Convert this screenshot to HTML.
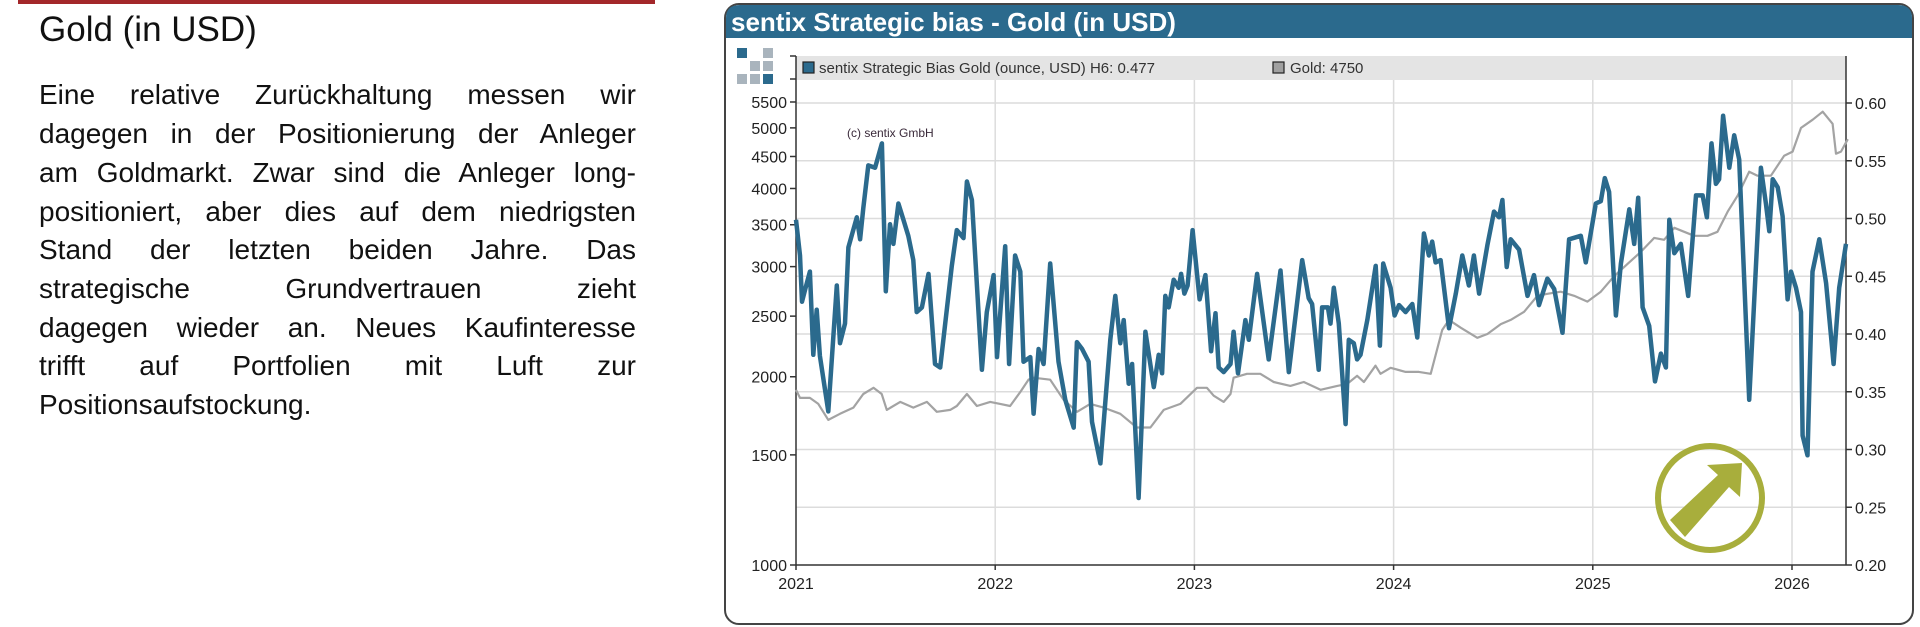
<!DOCTYPE html>
<html><head><meta charset="utf-8">
<style>
body{margin:0;width:1920px;height:627px;background:#fff;position:relative;overflow:hidden;font-family:"Liberation Sans",sans-serif;}
#redline{position:absolute;left:18px;top:0;width:637px;height:4px;background:#a3272a;}
#heading{position:absolute;left:39px;top:10px;font-size:35px;color:#111;}
.ln{position:absolute;left:39px;width:597px;font-size:28px;color:#111;text-align:justify;text-align-last:justify;white-space:nowrap;line-height:32px;}
</style></head><body>
<div id="redline"></div>
<div id="heading">Gold (in USD)</div>
<div>
<div class="ln" style="top:79px">Eine relative Zurückhaltung messen wir</div>
<div class="ln" style="top:118px">dagegen in der Positionierung der Anleger</div>
<div class="ln" style="top:157px">am Goldmarkt. Zwar sind die Anleger long-</div>
<div class="ln" style="top:196px">positioniert, aber dies auf dem niedrigsten</div>
<div class="ln" style="top:234px">Stand der letzten beiden Jahre. Das</div>
<div class="ln" style="top:273px">strategische Grundvertrauen zieht</div>
<div class="ln" style="top:312px">dagegen wieder an. Neues Kaufinteresse</div>
<div class="ln" style="top:350px">trifft auf Portfolien mit Luft zur</div>
<div class="ln" style="top:389px;text-align-last:left">Positionsaufstockung.</div>
</div>
<svg id="chart" width="1920" height="627" style="position:absolute;left:0;top:0"></svg>
<script>
const years=[2021,2022,2023,2024,2025,2026];
const leftTicks=[1000,1500,2000,2500,3000,3500,4000,4500,5000,5500];
const rightTicks=[0.20,0.25,0.30,0.35,0.40,0.45,0.50,0.55,0.60];
const biasDates=[2021.0,2021.02,2021.03,2021.045,2021.07,2021.087,2021.104,2021.12,2021.162,2021.205,2021.221,2021.246,2021.263,2021.305,2021.322,2021.338,2021.363,2021.397,2021.431,2021.451,2021.472,2021.489,2021.514,2021.539,2021.564,2021.589,2021.606,2021.632,2021.665,2021.698,2021.724,2021.749,2021.782,2021.807,2021.841,2021.858,2021.883,2021.933,2021.958,2021.992,2022.009,2022.05,2022.07,2022.1,2022.126,2022.142,2022.176,2022.193,2022.218,2022.243,2022.276,2022.318,2022.352,2022.394,2022.41,2022.436,2022.469,2022.486,2022.528,2022.578,2022.603,2022.628,2022.645,2022.67,2022.687,2022.72,2022.754,2022.796,2022.821,2022.838,2022.854,2022.871,2022.896,2022.921,2022.933,2022.95,2022.966,2022.991,2023.026,2023.055,2023.084,2023.106,2023.122,2023.147,2023.181,2023.197,2023.219,2023.256,2023.273,2023.315,2023.373,2023.432,2023.474,2023.541,2023.574,2023.591,2023.624,2023.641,2023.67,2023.683,2023.7,2023.725,2023.759,2023.775,2023.8,2023.817,2023.834,2023.868,2023.91,2023.931,2023.948,2023.985,2024.005,2024.027,2024.06,2024.094,2024.119,2024.152,2024.177,2024.194,2024.211,2024.236,2024.278,2024.312,2024.345,2024.378,2024.403,2024.429,2024.471,2024.504,2024.529,2024.546,2024.568,2024.588,2024.63,2024.672,2024.705,2024.73,2024.772,2024.806,2024.848,2024.881,2024.94,2024.965,2025.015,2025.04,2025.06,2025.082,2025.116,2025.141,2025.183,2025.208,2025.228,2025.25,2025.283,2025.312,2025.342,2025.367,2025.384,2025.409,2025.442,2025.479,2025.518,2025.551,2025.573,2025.596,2025.618,2025.634,2025.654,2025.685,2025.71,2025.735,2025.785,2025.844,2025.869,2025.886,2025.903,2025.928,2025.953,2025.978,2025.995,2026.02,2026.045,2026.053,2026.078,2026.103,2026.137,2026.171,2026.209,2026.237,2026.271];
const biasValues=[0.499,0.468,0.428,0.438,0.454,0.382,0.421,0.381,0.333,0.442,0.392,0.409,0.475,0.501,0.482,0.509,0.546,0.544,0.565,0.437,0.495,0.478,0.513,0.499,0.485,0.464,0.419,0.423,0.452,0.374,0.371,0.409,0.459,0.490,0.483,0.532,0.516,0.369,0.419,0.451,0.380,0.476,0.374,0.468,0.454,0.376,0.380,0.331,0.387,0.374,0.461,0.376,0.343,0.319,0.393,0.387,0.376,0.324,0.288,0.395,0.433,0.392,0.412,0.357,0.374,0.258,0.402,0.354,0.382,0.366,0.433,0.423,0.447,0.440,0.452,0.435,0.442,0.490,0.430,0.451,0.385,0.418,0.371,0.367,0.374,0.402,0.366,0.412,0.395,0.452,0.378,0.455,0.367,0.464,0.431,0.426,0.369,0.423,0.423,0.409,0.440,0.409,0.322,0.395,0.392,0.378,0.382,0.412,0.459,0.390,0.461,0.440,0.416,0.425,0.419,0.426,0.397,0.487,0.468,0.480,0.462,0.464,0.405,0.435,0.468,0.442,0.468,0.435,0.477,0.506,0.501,0.516,0.458,0.482,0.473,0.433,0.451,0.425,0.448,0.439,0.401,0.482,0.485,0.462,0.513,0.515,0.535,0.523,0.416,0.461,0.508,0.478,0.518,0.423,0.407,0.359,0.383,0.371,0.499,0.470,0.478,0.433,0.520,0.520,0.501,0.565,0.530,0.534,0.589,0.544,0.572,0.551,0.343,0.544,0.513,0.489,0.534,0.527,0.502,0.430,0.454,0.440,0.419,0.312,0.295,0.454,0.482,0.444,0.374,0.440,0.478];
const goldDates=[2021.0,2021.02,2021.07,2021.112,2021.162,2021.221,2021.288,2021.338,2021.389,2021.43,2021.456,2021.523,2021.589,2021.657,2021.707,2021.774,2021.807,2021.858,2021.908,2021.975,2022.025,2022.075,2022.126,2022.167,2022.192,2022.276,2022.343,2022.411,2022.477,2022.544,2022.628,2022.711,2022.779,2022.846,2022.929,2023.013,2023.063,2023.097,2023.147,2023.181,2023.197,2023.264,2023.331,2023.398,2023.482,2023.549,2023.633,2023.717,2023.767,2023.817,2023.851,2023.909,2023.934,2023.985,2024.06,2024.127,2024.186,2024.244,2024.278,2024.337,2024.42,2024.471,2024.538,2024.588,2024.655,2024.722,2024.772,2024.839,2024.906,2024.973,2025.04,2025.107,2025.174,2025.241,2025.308,2025.358,2025.409,2025.459,2025.509,2025.576,2025.626,2025.677,2025.727,2025.785,2025.827,2025.894,2025.961,2026.003,2026.045,2026.104,2026.154,2026.204,2026.221,2026.246,2026.28];
const goldValues=[1906,1850,1850,1810,1706,1745,1785,1877,1920,1877,1770,1823,1785,1823,1758,1770,1796,1877,1796,1823,1810,1796,1891,1978,1993,1978,1838,1758,1810,1785,1745,1659,1659,1770,1810,1920,1920,1865,1823,1877,1993,2022,2022,1962,1934,1962,1906,1934,1948,2007,1962,2083,2022,2067,2036,2036,2022,2376,2466,2396,2308,2341,2428,2466,2540,2694,2714,2735,2694,2637,2735,2896,3030,3167,3335,3311,3461,3410,3360,3360,3410,3673,3895,4255,4193,4193,4513,4581,5000,5153,5306,5075,4547,4581,4795];

const NS='http://www.w3.org/2000/svg';
const svg=document.getElementById('chart');
const PL=796,PR=1846,PT=80,PB=565,YW=199.2;
const xS=t=>PL+(t-2021)*YW;
const yR=v=>565-(v-0.2)/0.4*462;
const yL=p=>565-271.6*Math.log(p/1000);
function mk(tag,attrs,parent){const e=document.createElementNS(NS,tag);for(const k in attrs)e.setAttribute(k,attrs[k]);(parent||svg).appendChild(e);return e;}

const frame=mk('rect',{x:725,y:4,width:1188,height:620,rx:14,fill:'#fff',stroke:'#444','stroke-width':2});


const tb=mk('path',{d:'M726 38 L726 18 Q726 5 740 5 L1898 5 Q1912 5 1912 18 L1912 38 Z',fill:'#2b6a8d'});


const tt=mk('text',{x:731,y:31,fill:'#fff','font-size':26,'font-weight':'bold','font-family':'Liberation Sans, sans-serif'});
tt.textContent='sentix Strategic bias - Gold (in USD)';



const logoPat=[[1,0,2],[0,2,2],[2,2,1]];
const logo=mk('g',{});


logoPat.forEach((r,i)=>r.forEach((c,j)=>{if(c)mk('rect',{x:737+j*13,y:48+i*13,width:10,height:10,fill:c===1?'#2b6a8d':'#a9b4bd'},logo);}));

const lg=mk('g',{});


mk('rect',{x:PL,y:56,width:PR-PL,height:24,fill:'#e4e4e4'},lg);
const le1=mk('g',{},lg);


mk('rect',{x:803,y:62,width:11,height:11,fill:'#2b6a8d',stroke:'#222','stroke-width':1.2},le1);
const l1=mk('text',{x:819,y:73,'font-size':15,fill:'#333'},le1);l1.textContent='sentix Strategic Bias Gold (ounce, USD) H6: 0.477';
const le2=mk('g',{},lg);


mk('rect',{x:1273,y:62,width:11,height:11,fill:'#a0a0a0',stroke:'#222','stroke-width':1.2},le2);
const l2=mk('text',{x:1290,y:73,'font-size':15,fill:'#333'},le2);l2.textContent='Gold: 4750';

const grid=mk('g',{stroke:'#dcdcdc','stroke-width':1.5});


rightTicks.forEach(v=>{if(v>0.2)mk('line',{x1:PL,x2:PR,y1:yR(v),y2:yR(v)},grid);});
years.forEach(y=>{if(y>2021)mk('line',{x1:xS(y),x2:xS(y),y1:PT,y2:PB},grid);});

const ax=mk('g',{stroke:'#333','stroke-width':1.5});


mk('line',{x1:PL,x2:PL,y1:56,y2:PB},ax);
mk('line',{x1:PR,x2:PR,y1:56,y2:PB},ax);
mk('line',{x1:PL,x2:PR,y1:PB,y2:PB},ax);
mk('line',{x1:PL-6,x2:PL,y1:56,y2:56},ax);
mk('line',{x1:PL-6,x2:PL,y1:79,y2:79},ax);

const lt=mk('g',{'font-size':16,fill:'#222','text-anchor':'end'});


leftTicks.forEach(p=>{const y=yL(p);mk('line',{x1:PL-6,x2:PL,y1:y,y2:y,stroke:'#333','stroke-width':1.5},lt);const t=mk('text',{x:PL-9,y:y+6},lt);t.textContent=p;});
const rt=mk('g',{'font-size':16,fill:'#222'});


rightTicks.forEach(v=>{const y=yR(v);mk('line',{x1:PR,x2:PR+6,y1:y,y2:y,stroke:'#333','stroke-width':1.5},rt);const t=mk('text',{x:PR+9,y:y+6},rt);t.textContent=v.toFixed(2);});
const xt=mk('g',{'font-size':16,fill:'#222','text-anchor':'middle'});


years.forEach(y=>{const x=xS(y);mk('line',{x1:x,x2:x,y1:PB,y2:PB+5,stroke:'#333','stroke-width':1.5},xt);const t=mk('text',{x:x,y:589},xt);t.textContent=y;});

const cp=mk('text',{x:847,y:137,'font-size':12,fill:'#3a2a3a'});
cp.textContent='(c) sentix GmbH';



const gp=mk('polyline',{points:goldDates.map((d,i)=>xS(d).toFixed(1)+','+yL(goldValues[i]).toFixed(1)).join(' '),fill:'none',stroke:'#a3a3a3','stroke-width':2.2,'stroke-linejoin':'round'});


const bp=mk('polyline',{points:biasDates.map((d,i)=>xS(d).toFixed(1)+','+yR(biasValues[i]).toFixed(1)).join(' '),fill:'none',stroke:'#2b6a8d','stroke-width':4.5,'stroke-linejoin':'round'});



const ic=mk('g',{});


mk('circle',{cx:1710,cy:498,r:52,fill:'none',stroke:'#a8ae3c','stroke-width':6},ic);
mk('polygon',{points:'1670,520 1718,475 1707,465 1742,463 1740,497 1729,487 1685,537',fill:'#a8ae3c'},ic);
</script>
</body></html>
